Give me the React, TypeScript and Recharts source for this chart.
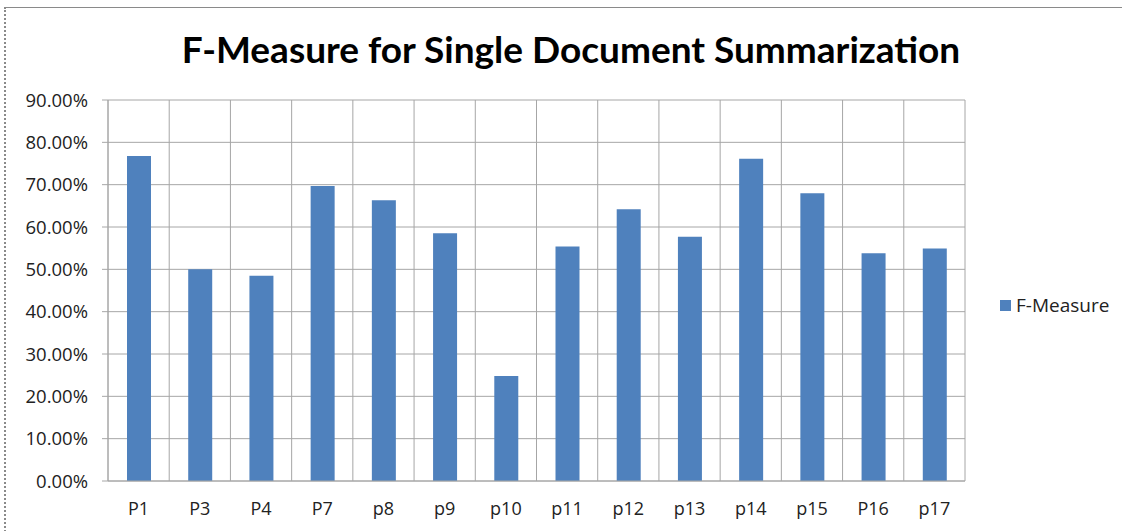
import React from 'react';
import { BarChart, Bar, XAxis, YAxis, CartesianGrid, Legend } from 'recharts';

const categories = ['P1', 'P3', 'P4', 'P7', 'p8', 'p9', 'p10', 'p11', 'p12', 'p13', 'p14', 'p15', 'P16', 'p17'];
const fMeasure = [0.768, 0.5, 0.485, 0.697, 0.663, 0.585, 0.248, 0.554, 0.642, 0.577, 0.761, 0.68, 0.538, 0.549];
const yTicks = [0, 0.1, 0.2, 0.3, 0.4, 0.5, 0.6, 0.7, 0.8, 0.9];
const boundaryTicks = categories.map((_, i) => i).concat([categories.length]);
const seriesName = 'F-Measure';
const titleText = 'F-Measure for Single Document Summarization';

const data = categories.map((c, i) => ({ name: c, value: fMeasure[i], pos: i }));

const TITLE_FONT = "Lato, 'Open Sans', sans-serif";
const FONT = "'Open Sans', Lato, sans-serif";
const BAR_COLOR = '#4F81BD';
const GRID = '#a6a6a6';
const LEGEND_W = 122;

const fmt = (v: number) => (v * 100).toFixed(2) + '%';

const LegendContent = (props: any) => {
  const payload = props.payload || [];
  return (
    <div style={{ fontFamily: FONT, fontSize: 19, color: '#222', width: LEGEND_W }}>
      {payload.map((p: any, i: number) => (
        <div key={i} style={{ display: 'flex', alignItems: 'center' }}>
          <span style={{ display: 'inline-block', width: 11, height: 11, background: p.color, marginRight: 5 }} />
          <span>{p.value}</span>
        </div>
      ))}
    </div>
  );
};

export default function App() {
  return (
    <div style={{ position: 'absolute', left: 0, top: 0, width: 1122, height: 531, overflow: 'hidden', background: '#fff' }}>
      <div
        style={{
          position: 'absolute',
          left: 4,
          top: 7,
          width: 1140,
          height: 560,
          borderLeft: '2px dotted #8a8a8a',
          borderTop: '1px solid #8a8a8a',
        }}
      />
      <div
        style={{
          position: 'absolute',
          left: 571,
          top: 26,
          transform: 'translateX(-50%)',
          whiteSpace: 'nowrap',
          fontFamily: TITLE_FONT,
          fontWeight: 700,
          fontSize: 37,
          color: '#000',
        }}
      >
        {titleText}
      </div>
      <div style={{ position: 'absolute', left: 0, top: 0 }}>
        <BarChart
          width={1122}
          height={531}
          data={data}
          margin={{ top: 100, right: 157 - LEGEND_W, bottom: 0, left: 8 }}
          barCategoryGap={0}
        >
          <CartesianGrid
            stroke={GRID}
            strokeWidth={1}
            horizontal={true}
            vertical={true}
            verticalCoordinatesGenerator={({ offset }: any) =>
              boundaryTicks.map((i) => offset.left + (i * offset.width) / categories.length)
            }
          />
          <XAxis
            dataKey="name"
            xAxisId="cat"
            height={50}
            axisLine={{ stroke: GRID }}
            tickLine={false}
            tickSize={0}
            tickMargin={21}
            interval={0}
            tick={{ fontFamily: FONT, fontSize: 18, fill: '#222' }}
          />
          <XAxis
            xAxisId="marks"
            type="number"
            dataKey="pos"
            domain={[0, categories.length]}
            ticks={boundaryTicks}
            allowDataOverflow
            height={0}
            axisLine={false}
            tickLine={{ stroke: GRID }}
            tickSize={7}
            tick={false}
          />
          <YAxis
            width={100}
            domain={[0, 0.9]}
            ticks={yTicks}
            interval={0}
            tickFormatter={fmt}
            axisLine={{ stroke: GRID }}
            tickLine={{ stroke: GRID }}
            tickSize={6}
            tickMargin={14}
            tick={{ fontFamily: FONT, fontSize: 18.5, fill: '#222' }}
          />
          <Legend
            layout="vertical"
            align="right"
            verticalAlign="middle"
            content={LegendContent}
            wrapperStyle={{ position: 'absolute', left: 1000, top: 292, width: LEGEND_W }}
          />
          <Bar
            dataKey="value"
            name={seriesName}
            xAxisId="cat"
            fill={BAR_COLOR}
            barSize={24}
            isAnimationActive={false}
          />
        </BarChart>
      </div>
    </div>
  );
}
